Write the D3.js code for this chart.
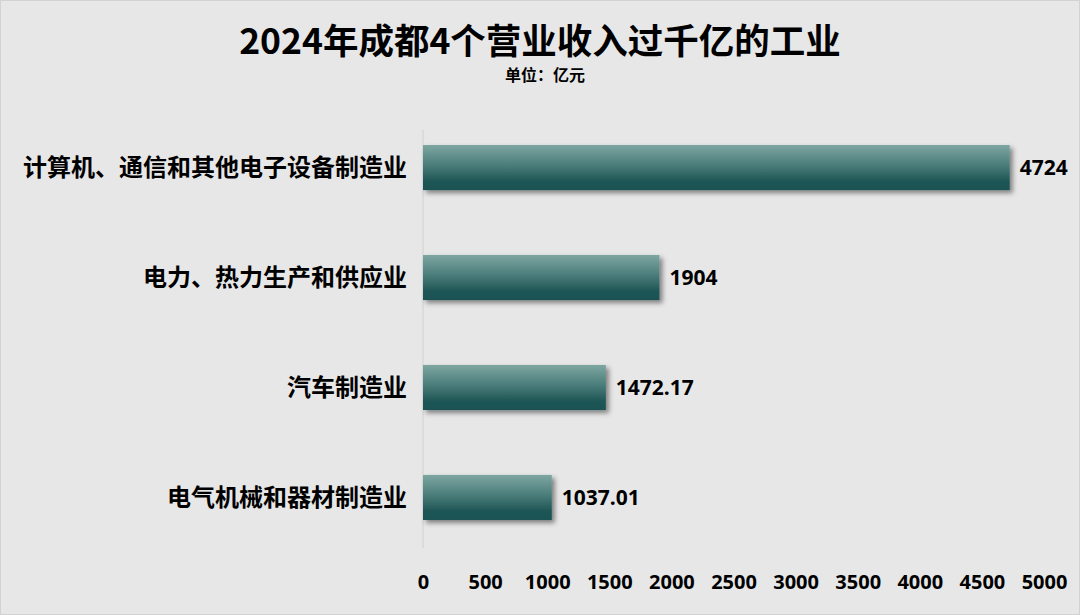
<!DOCTYPE html>
<html>
<head>
<meta charset="utf-8">
<script src="https://cdn.jsdelivr.net/npm/d3@7"></script>
<style>
  html, body { margin: 0; padding: 0; background: #e7e7e7; }
  svg { display: block; }
  text { font-family: "Noto Sans CJK SC", "Open Sans", sans-serif; font-weight: bold; fill: #000; }
  .num { font-family: "Open Sans", "Noto Sans", sans-serif; }
</style>
</head>
<body>
<div id="chart"></div>
<script>
const categories = ['计算机、通信和其他电子设备制造业', '电力、热力生产和供应业', '汽车制造业', '电气机械和器材制造业'];
const values = [4724, 1904, 1472.17, 1037.01];
const valueLabels = ['4724', '1904', '1472.17', '1037.01'];
const xTicks = [0, 500, 1000, 1500, 2000, 2500, 3000, 3500, 4000, 4500, 5000];

const width = 1080, height = 615;
const svg = d3.select('#chart').append('svg')
    .attr('width', width)
    .attr('height', height);

svg.append('rect')
    .attr('x', 0.5).attr('y', 0.5)
    .attr('width', width - 1).attr('height', height - 1)
    .attr('fill', '#e7e7e7')
    .attr('stroke', '#d2d2d2');

const defs = svg.append('defs');
const grad = defs.append('linearGradient')
    .attr('id', 'barGrad')
    .attr('x1', 0).attr('y1', 0).attr('x2', 0).attr('y2', 1);
grad.append('stop').attr('offset', '0%').attr('stop-color', '#7ea6a1');
grad.append('stop').attr('offset', '45%').attr('stop-color', '#4a7d7a');
grad.append('stop').attr('offset', '80%').attr('stop-color', '#1f5656');
grad.append('stop').attr('offset', '100%').attr('stop-color', '#1c5152');

const shadow = defs.append('filter')
    .attr('id', 'shadow')
    .attr('x', '-5%').attr('y', '-20%').attr('width', '115%').attr('height', '160%');
shadow.append('feDropShadow')
    .attr('dx', 3).attr('dy', 3).attr('stdDeviation', 2.5)
    .attr('flood-color', '#000').attr('flood-opacity', 0.45);

const x = d3.scaleLinear().domain([0, 5000]).range([423, 1044]);
const y = d3.scaleBand().domain(categories).range([123, 542]).paddingInner(0.59).paddingOuter(0.2);

// title
svg.append('text')
    .attr('x', 540).attr('y', 54)
    .attr('text-anchor', 'middle')
    .style('font-size', '35.5px')
    .text('2024年成都4个营业收入过千亿的工业');

svg.append('text')
    .attr('x', 545).attr('y', 81)
    .attr('text-anchor', 'middle')
    .style('font-size', '16px')
    .text('单位：亿元');

// vertical axis line
svg.append('line')
    .attr('x1', x(0)).attr('x2', x(0))
    .attr('y1', 130).attr('y2', 548)
    .attr('stroke', '#d0d0d0').attr('stroke-width', 1);

// bars
svg.selectAll('.bar')
    .data(categories)
    .enter().append('rect')
    .attr('class', 'bar')
    .attr('x', x(0))
    .attr('y', d => y(d))
    .attr('width', (d, i) => x(values[i]) - x(0))
    .attr('height', y.bandwidth())
    .attr('fill', 'url(#barGrad)')
    .attr('filter', 'url(#shadow)');

// category labels
svg.selectAll('.cat')
    .data(categories)
    .enter().append('text')
    .attr('class', 'cat')
    .attr('x', 407)
    .attr('y', d => y(d) + y.bandwidth() / 2)
    .attr('dy', '0.35em')
    .attr('text-anchor', 'end')
    .style('font-size', '24px')
    .text(d => d);

// value labels
svg.selectAll('.val')
    .data(categories)
    .enter().append('text')
    .attr('class', 'val num')
    .attr('x', (d, i) => x(values[i]) + 10)
    .attr('y', d => y(d) + y.bandwidth() / 2)
    .attr('dy', '0.35em')
    .style('font-size', '21px')
    .text((d, i) => valueLabels[i]);

// x axis
const xAxis = d3.axisBottom(x).tickValues(xTicks).tickFormat(d3.format('d')).tickSize(0).tickPadding(0);
const gx = svg.append('g')
    .attr('transform', 'translate(0,570)')
    .call(xAxis);
gx.select('.domain').remove();
gx.selectAll('text')
    .attr('class', 'num')
    .attr('dy', '0.35em')
    .attr('y', 12)
    .style('font-size', '20px')
    .style('font-family', '"Open Sans", sans-serif')
    .style('font-weight', 'bold')
    .attr('fill', '#000');
</script>
</body>
</html>
